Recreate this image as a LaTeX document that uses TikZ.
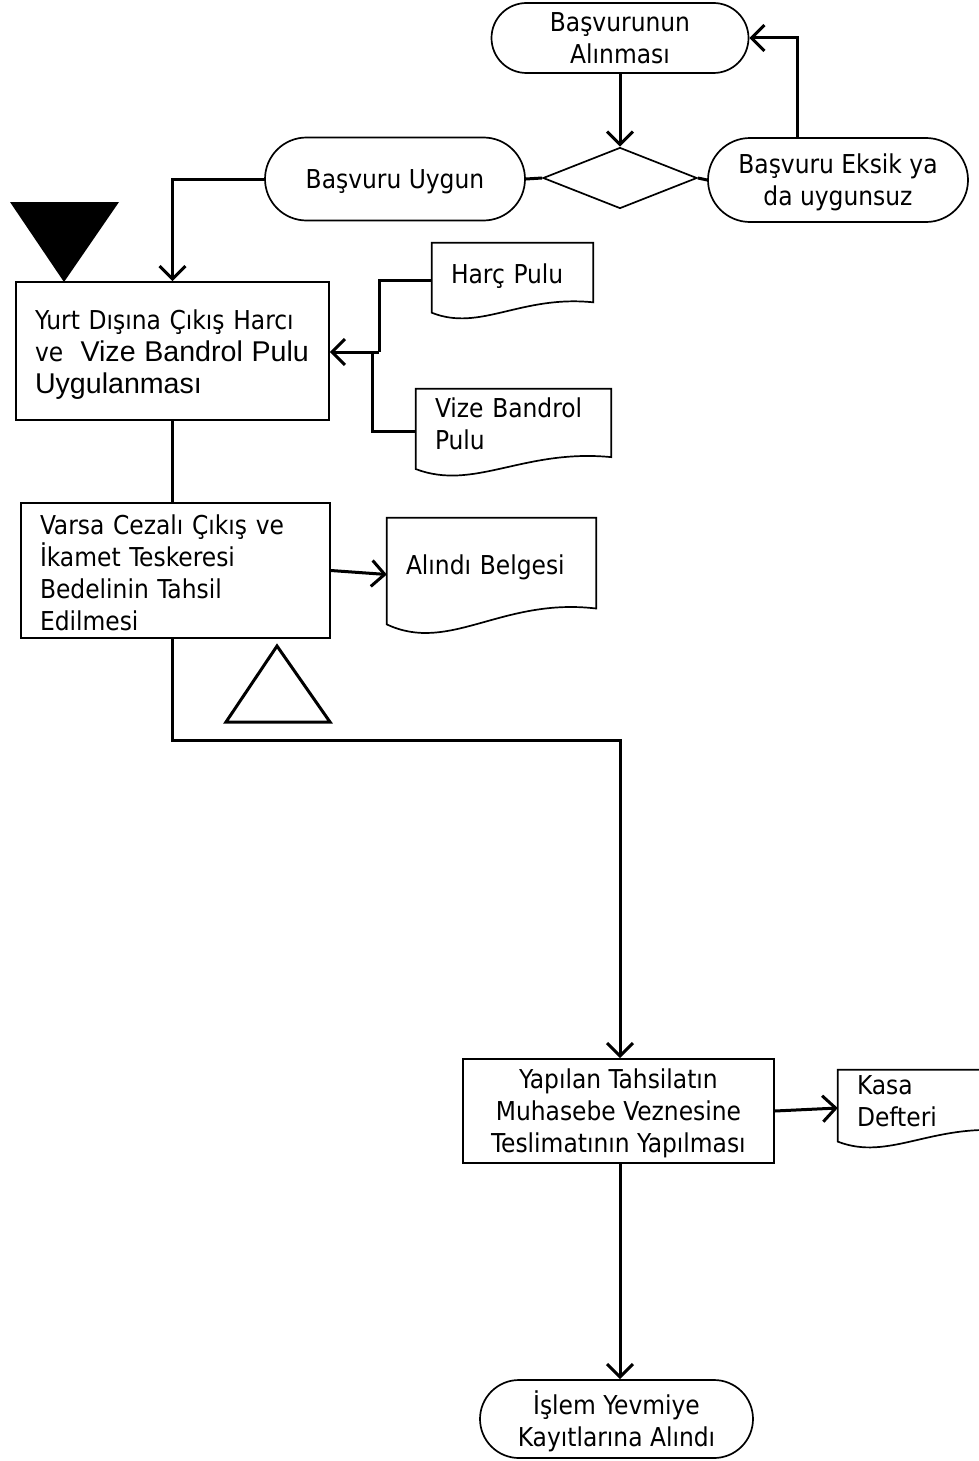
\documentclass[tikz,border=0pt]{standalone}
\usepackage{fontspec}
\setmainfont{DejaVu Sans Condensed}
\newfontfamily\arialfont{Liberation Sans}
\usepackage{tikz}
\usetikzlibrary{positioning,arrows.meta,shapes.geometric,shapes.misc,calc}

% belge sekli: dalgali alt kenar
\newcommand{\belge}[1]{%
  \draw[kenar] let \p1=(#1.south west), \p2=(#1.north east),
      \n1={\x2-\x1}, \n2={\y2-\y1} in
    (\x1,\y2) -- (\x2,\y2) -- (\x2,\y1+0.2*\n2)
    .. controls (\x1+0.55*\n1,\y1+0.3*\n2) and (\x1+0.3*\n1,\y1-0.2*\n2)
    .. (\x1,\y1+0.06*\n2) -- cycle;}
\newcommand{\arialyazi}{\arialfont\fontsize{28.6}{32}\selectfont}

\begin{document}
\begin{tikzpicture}[x=1pt, y=-1pt, >={Straight Barb[length=13pt,width=26pt]},
  every node/.style={font=\fontsize{26}{32}\selectfont},
  kenar/.style={line width=1.7pt},
  baglanti/.style={line width=3pt},
  terminal/.style={rounded rectangle, draw, kenar, align=center, inner sep=0pt, text depth=0pt},
  kutu/.style={rectangle, draw, kenar, inner ysep=0pt},
  belgekutu/.style={rectangle, inner xsep=19pt, inner ysep=0pt, align=left}]

\useasboundingbox (0,0) rectangle (979,1461);

% 
\node[terminal, minimum width=257pt, minimum height=70pt] (basvuru) at (620,38) {Başvurunun\\Alınması};
\node[diamond, draw, kenar, minimum width=154pt, minimum height=61pt, inner sep=0pt] (karar) at (620,178) {};
\node[terminal, minimum width=260pt, minimum height=83pt] (uygun) at (395,179) {Başvuru Uygun};
\node[terminal, minimum width=260pt, minimum height=84pt] (eksik) at (838,180) {Başvuru Eksik ya\\da uygunsuz};

% 
\node[kutu, minimum width=313pt, minimum height=138pt, inner xsep=19pt, text width=275pt, align=left, text depth=62pt] (harc) at (172.5,351)
  {Yurt Dışına Çıkış Harcı\\\mbox{ve\ \ {\arialyazi Vize Bandrol Pulu}}\\{\arialyazi Uygulanması}};
\node[kutu, minimum width=309pt, minimum height=135pt, inner xsep=19pt, text width=271pt, align=left, text depth=92pt] (tahsil) at (175.5,570.5)
  {Varsa Cezalı Çıkış ve\\İkamet Teskeresi\\Bedelinin Tahsil\\Edilmesi};
\node[kutu, minimum width=311pt, minimum height=104pt, align=center, text depth=0pt] (teslim) at (618.5,1111)
  {Yapılan Tahsilatın\\Muhasebe Veznesine\\Teslimatının Yapılması};
\node[terminal, minimum width=273pt, minimum height=78pt] (islem) at (616.5,1419) {İşlem Yevmiye\\Kayıtlarına Alındı};

% 
\node[belgekutu, minimum width=161pt, text width=123pt, minimum height=74pt, text depth=12pt] (harcpulu) at (512.5,280) {Harç Pulu};
\node[belgekutu, minimum width=195pt, text width=157pt, minimum height=85pt, text depth=48pt] (vizepulu) at (513.5,431.5) {Vize Bandrol\\Pulu};
\node[belgekutu, minimum width=209pt, text width=171pt, minimum height=113pt, text depth=20pt] (alindi) at (491.5,574.5) {Alındı Belgesi};
\node[belgekutu, minimum width=170pt, text width=132pt, minimum height=76pt, text depth=46pt] (kasa) at (923,1108) {Kasa\\Defteri};
\belge{harcpulu}
\belge{vizepulu}
\belge{alindi}
\belge{kasa}

% 
\fill (10,202) -- (119,202) -- (64,282) -- cycle;
\draw[baglanti] (277,646) -- (330,722) -- (226,722) -- cycle;

% 
\coordinate (birlesim) at (379,352);
\coordinate (kose) at (620,740);

% 
\draw[baglanti, ->] (basvuru.south) -- (karar.north);
\draw[baglanti] (uygun.east) -- (karar.west);
\draw[baglanti] (karar.east) -- (eksik.west);
\draw[baglanti, ->] ([xshift=-41pt]eksik.north) |- (basvuru.east);
\draw[baglanti, ->] (uygun.west) -| (harc.north);
\draw[baglanti] (harcpulu.west) -| (birlesim);
\draw[baglanti] (vizepulu.west) -| ([xshift=-7pt]birlesim);
\draw[baglanti, ->] (birlesim) -- (birlesim -| harc.east);
\draw[baglanti] (harc.south) -- (harc.south |- tahsil.north);
\draw[baglanti, ->] (tahsil.east) -- (alindi.west);
\draw[baglanti, ->] (harc.south |- tahsil.south) |- (kose) -- (kose |- teslim.north);
\draw[baglanti, ->] (teslim.east) -- (kasa.west);
\draw[baglanti, ->] (kose |- teslim.south) -- (kose |- islem.north);

\end{tikzpicture}
\end{document}
